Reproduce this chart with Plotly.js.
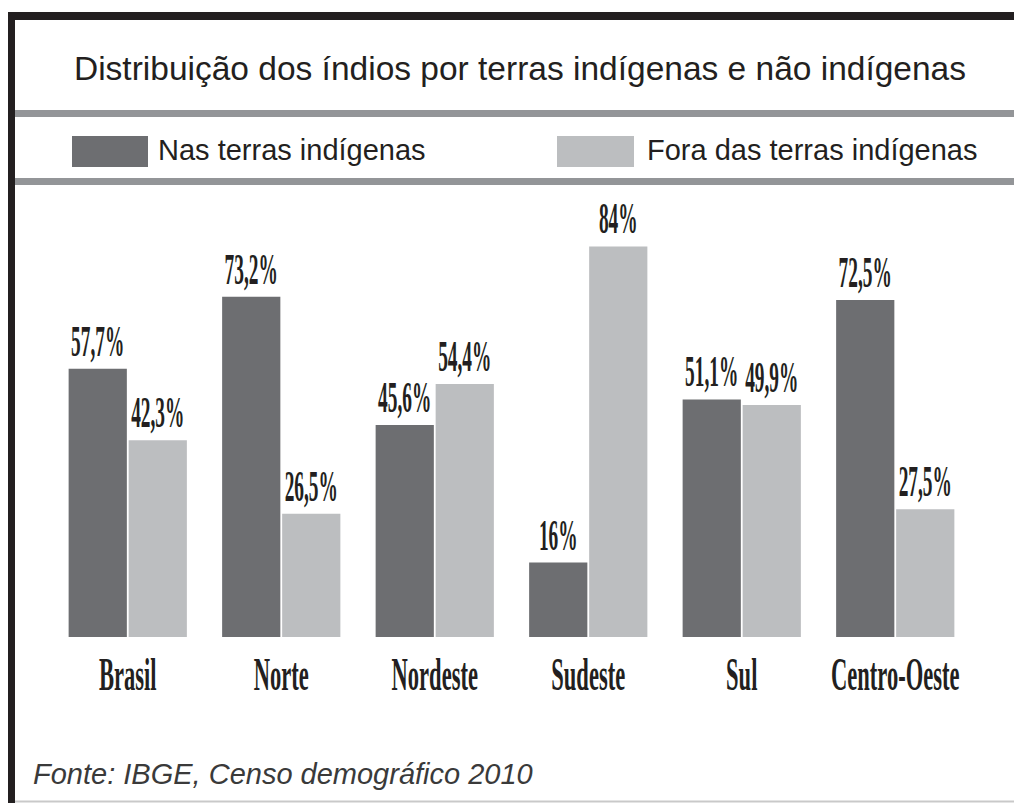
<!DOCTYPE html>
<html>
<head>
<meta charset="utf-8">
<script src="https://cdn.plot.ly/plotly-3.0.1.min.js"></script>
<style>
  html, body { margin: 0; padding: 0; background: #ffffff; }
  #chart { width: 1014px; height: 803px; }
</style>
</head>
<body>
<div id="chart"></div>
<script>
// ---- data ----
const categories = ['Brasil', 'Norte', 'Nordeste', 'Sudeste', 'Sul', 'Centro-Oeste'];
const seriesNames = ['Nas terras indígenas', 'Fora das terras indígenas'];
const nasTerras = [57.7, 73.2, 45.6, 16, 51.1, 72.5];
const foraTerras = [42.3, 26.5, 54.4, 84, 49.9, 27.5];
const chartTitle = 'Distribuição dos índios por terras indígenas e não indígenas';
const sourceNote = 'Fonte: IBGE, Censo demográfico 2010';

// ---- styling ----
const W = 1014, H = 803;
const M = { l: 51, r: 42, t: 200, b: 166 };
const PW = W - M.l - M.r, PH = H - M.t - M.b;
const darkColor = '#6d6e71';
const lightColor = '#bcbec0';
const textColor = '#231f20';
const sansFont = 'Liberation Sans, Arial, Helvetica, sans-serif';
const serifFont = 'Liberation Serif, Times New Roman, serif';

const px2x = px => (px - M.l) / PW;
const py2y = py => (H - M.b - py) / PH;
const fmt = v => (Number.isInteger(v) ? String(v) : v.toFixed(1).replace('.', ',')) + '%';

function barTrace(name, values, color) {
  return {
    type: 'bar',
    name: name,
    x: categories,
    y: values,
    text: values.map(fmt),
    textposition: 'outside',
    constraintext: 'none',
    cliponaxis: false,
    textfont: { family: serifFont, size: 44, color: textColor, weight: 'bold' },
    marker: { color: color, line: { width: 0 } },
    hoverinfo: 'skip'
  };
}

const data = [
  barTrace(seriesNames[0], nasTerras, darkColor),
  barTrace(seriesNames[1], foraTerras, lightColor)
];

const rect = (x0, y0, x1, y1, color) => ({
  type: 'rect', xref: 'paper', yref: 'paper', layer: 'above',
  x0: px2x(x0), x1: px2x(x1), y0: py2y(y0), y1: py2y(y1),
  fillcolor: color, line: { width: 0 }
});

const shapes = [
  rect(8, 12, W, 20, textColor),           // top black border
  rect(8, 12, 15, H, textColor),           // left black border
  rect(15, 110, W, 117, '#939598'),        // grey rule under title
  rect(15, 178, W, 185, '#939598'),        // grey rule under legend
  rect(15, 800.5, W, 802.5, '#c9c9c9'),    // thin bottom rule
  rect(72, 136, 148, 167, darkColor),      // legend swatch 1
  rect(557, 136, 634, 167, lightColor)     // legend swatch 2
];

const annotations = [
  { text: seriesNames[0], xref: 'paper', yref: 'paper', x: px2x(156), y: py2y(150),
    xanchor: 'left', yanchor: 'middle', showarrow: false,
    font: { family: sansFont, size: 29, color: textColor } },
  { text: seriesNames[1], xref: 'paper', yref: 'paper', x: px2x(645), y: py2y(150),
    xanchor: 'left', yanchor: 'middle', showarrow: false,
    font: { family: sansFont, size: 29, color: textColor } },
  { text: sourceNote, xref: 'paper', yref: 'paper', x: px2x(31), y: py2y(774),
    xanchor: 'left', yanchor: 'middle', showarrow: false,
    font: { family: sansFont, size: 29, color: '#3a3a3a', style: 'italic' } }
];

const layout = {
  width: W, height: H,
  margin: M,
  paper_bgcolor: '#ffffff', plot_bgcolor: '#ffffff',
  title: {
    text: chartTitle,
    font: { family: sansFont, size: 33.5, color: textColor },
    xref: 'container', x: 520 / W, xanchor: 'center',
    yref: 'container', y: 1 - 68 / H, yanchor: 'middle'
  },
  showlegend: false,
  barmode: 'group',
  bargap: 0.218,
  bargroupgap: 0.03,
  xaxis: {
    type: 'category',
    showline: false, showgrid: false, zeroline: false,
    ticks: '', tickangle: 0, ticklabelstandoff: 6,
    tickfont: { family: serifFont, size: 46, color: textColor, weight: 'bold' },
    automargin: false
  },
  yaxis: {
    range: [0, 94], visible: false, showgrid: false, zeroline: false,
    fixedrange: true, automargin: false
  },
  shapes: shapes,
  annotations: annotations,
  hovermode: false
};

// Condense a text horizontally (the reference uses a compressed display face):
// wrap it in a group scaled in x about the text's own centre.
function condense(nodes, k) {
  nodes.forEach(t => {
    const p = t.parentNode;
    const svg = t.ownerSVGElement;
    const r = t.getBoundingClientRect();
    if (!r.width) return;
    const pt = svg.createSVGPoint();
    pt.x = r.left + r.width / 2;
    pt.y = r.top + r.height / 2;
    const lp = pt.matrixTransform(p.getScreenCTM().inverse());
    const g = document.createElementNS('http://www.w3.org/2000/svg', 'g');
    g.setAttribute('transform',
      'translate(' + lp.x + ',0) scale(' + k + ',1) translate(' + (-lp.x) + ',0)');
    p.insertBefore(g, t);
    g.appendChild(t);
  });
}

Plotly.newPlot('chart', data, layout, { displayModeBar: false, staticPlot: true }).then(gd => {
  condense(gd.querySelectorAll('.xtick text'), 0.49);
  condense(gd.querySelectorAll('text.bartext'), 0.44);
});
</script>
</body>
</html>
